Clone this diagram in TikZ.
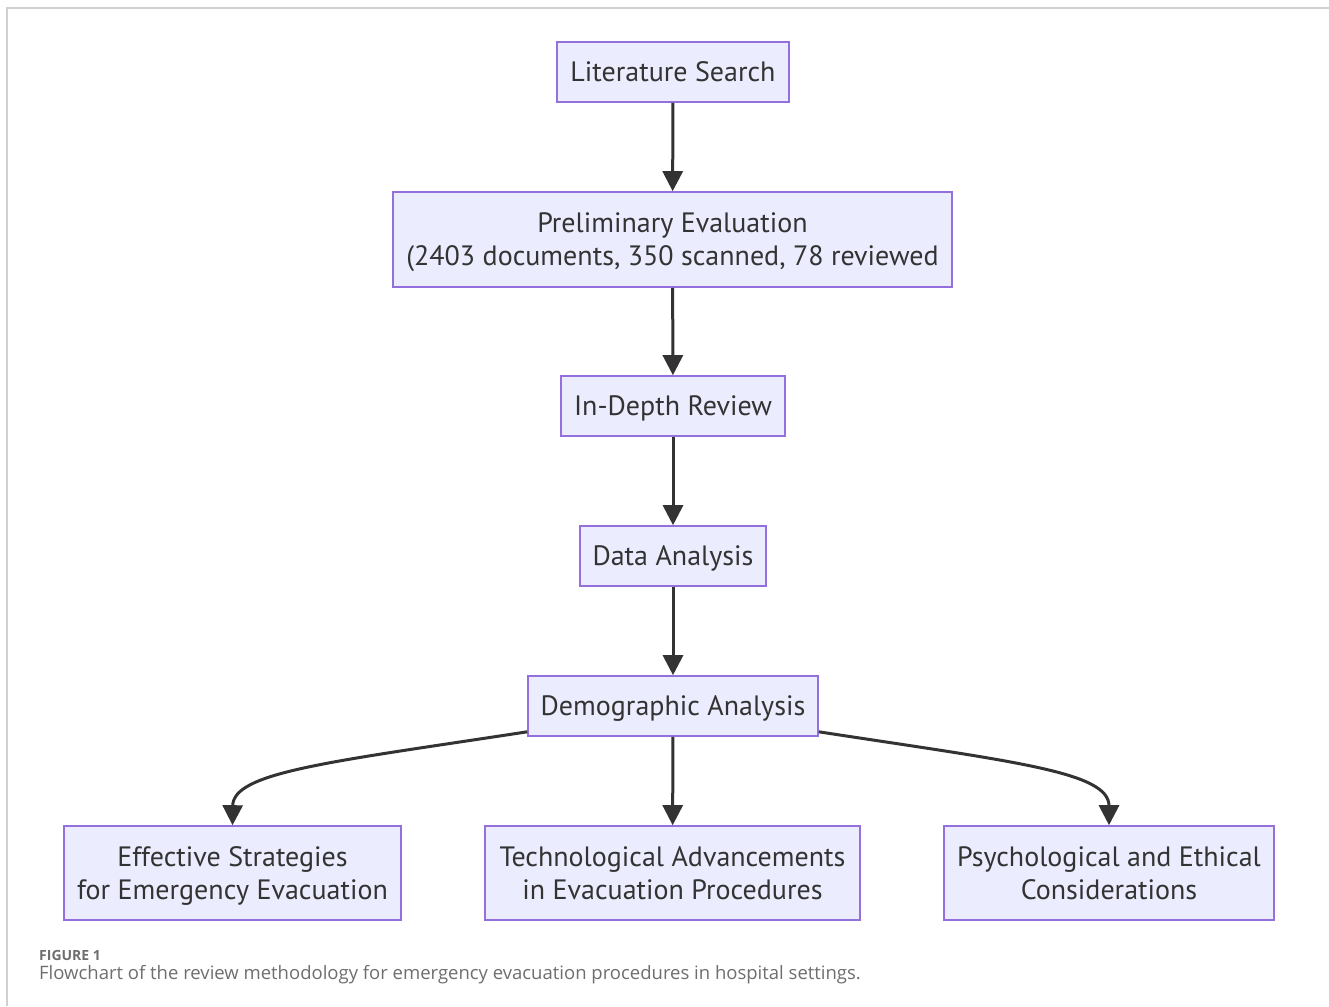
\documentclass[tikz,border=0pt]{standalone}
\usepackage{fontspec}
\setmainfont{PT Sans}
\newfontfamily\capfont{Open Sans}
\usetikzlibrary{arrows.meta,calc}
\definecolor{boxfill}{HTML}{ECECFF}
\definecolor{boxline}{HTML}{9370DB}
\definecolor{ink}{HTML}{333333}
\definecolor{framegray}{HTML}{D0D0D0}
\definecolor{capgray}{HTML}{6E6E6E}
% line strut: keeps every text line 33pt tall with capitals centred
\newcommand\ls{\rule[-6.7pt]{0pt}{33pt}}
\begin{document}
\begin{tikzpicture}[x=1pt,y=-1pt,
  box/.style={draw=boxline,fill=boxfill,line width=1.6pt,inner sep=0pt,
    text=ink,align=center,font=\fontsize{28}{33}\selectfont},
  flow/.style={draw=ink,line width=3pt,
    -{Triangle[length=20pt,width=20pt]}}]
\useasboundingbox (0,0) rectangle (1329,1006);
% page frame
\draw[framegray,line width=2pt] (7,1006) -- (7,8) -- (1329,8);
% boxes
\node[box,minimum width=232,minimum height=60] (lit) at (673,72) {\ls Literature Search};
\node[box,minimum width=559,minimum height=95] (pre) at (672.5,239.5) {\ls Preliminary Evaluation\\\ls(2403 documents, 350 scanned, 78 reviewed};
\node[box,minimum width=224,minimum height=60] (rev) at (673,406) {\ls In-Depth Review};
\node[box,minimum width=186,minimum height=60] (dat) at (673,556) {\ls Data Analysis};
\node[box,minimum width=290,minimum height=60] (dem) at (673,706) {\ls Demographic Analysis};
\node[box,minimum width=337,minimum height=94] (eff) at (232.5,873) {\ls Effective Strategies\\\ls for Emergency Evacuation};
\node[box,minimum width=375,minimum height=94] (tec) at (672.5,873) {\ls Technological Advancements\\\ls in Evacuation Procedures};
\node[box,minimum width=330,minimum height=94] (psy) at (1109,873) {\ls Psychological and Ethical\\\ls Considerations};
% connectors
\draw[flow] (lit) -- (pre);
\draw[flow] (pre) -- (rev);
\draw[flow] (rev) -- (dat);
\draw[flow] (dat) -- (dem);
\draw[flow] (dem) -- (tec);
\draw[flow] ($(dem.south west)+(0,-5)$) .. controls (330,762) and (233,772) .. (eff.north);
\draw[flow] ($(dem.south east)+(0,-5)$) .. controls (1016,762) and (1109,772) .. (psy.north);
% caption
\node[anchor=base west,inner sep=0pt,text=capgray,font=\capfont\bfseries\fontsize{14}{16}\selectfont] (fig) at (39,960.5) {FIGURE 1};
\node[anchor=base west,inner sep=0pt,text=capgray,font=\capfont\fontsize{18.5}{20}\selectfont] (cap) at (39,979) {Flowchart of the review methodology for emergency evacuation procedures in hospital settings.};
\end{tikzpicture}
\end{document}
